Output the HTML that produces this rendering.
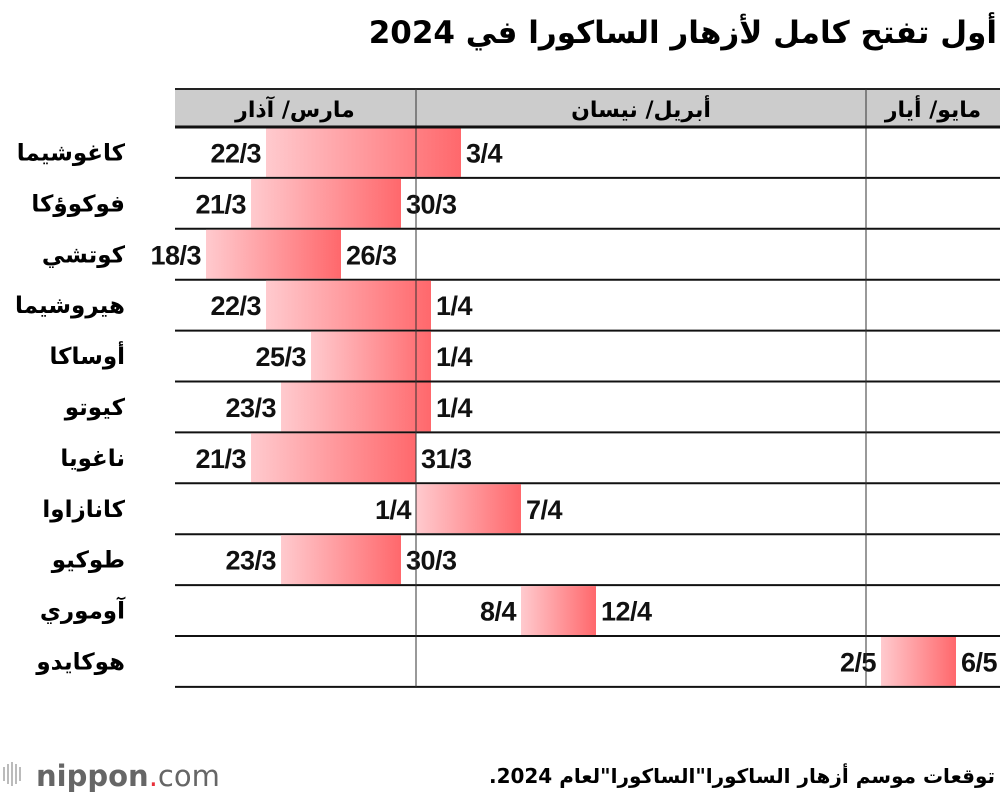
<!DOCTYPE html>
<html><head><meta charset="utf-8">
<style>
body{margin:0;background:#fff;width:1000px;height:798px;overflow:hidden;}
svg{display:block;font-family:"Liberation Sans Narrow","Liberation Sans","Noto Sans CJK SC",sans-serif;}
.ar{font-family:"DejaVu Sans","Liberation Sans",sans-serif;font-weight:bold;}
</style></head><body>
<svg id="chart" width="1000" height="798" viewBox="0 0 1000 798">
<defs><linearGradient id="g" x1="0" x2="1" y1="0" y2="0"><stop offset="0" stop-color="#ffcace"/><stop offset="1" stop-color="#ff686c"/></linearGradient></defs>
<text class="ar" x="997" y="43" text-anchor="start" font-size="31" direction="rtl">أول تفتح كامل لأزهار الساكورا في 2024</text>
<rect x="175" y="89" width="825" height="38" fill="#cccccc"/>
<line x1="175" y1="89" x2="1000" y2="89" stroke="#222" stroke-width="2"/>
<text class="ar" x="295" y="117" text-anchor="middle" font-size="22">مارس/ آذار</text>
<text class="ar" x="641" y="117" text-anchor="middle" font-size="22">أبريل/ نيسان</text>
<text class="ar" x="933" y="117" text-anchor="middle" font-size="22">مايو/ أيار</text>
<g id="rows"></g>
<text class="ar" x="995" y="783" text-anchor="start" font-size="20" direction="rtl">توقعات موسم أزهار الساكورا"الساكورا"لعام 2024.</text>
<g>
<g fill="#bbb"><rect x="3" y="767" width="2" height="14"/><rect x="7" y="764" width="2" height="20"/><rect x="11" y="762" width="2" height="24"/><rect x="15" y="764" width="2" height="20"/><rect x="19" y="767" width="2" height="14"/></g>
<text x="36" y="786" font-family="'DejaVu Sans',sans-serif" font-size="29" fill="#666"><tspan font-weight="bold">nippon</tspan><tspan fill="#e8303a">.</tspan><tspan>com</tspan></text>
</g>
</svg>
<script>
const cities=["كاغوشيما","فوكوؤكا","كوتشي","هيروشيما","أوساكا","كيوتو","ناغويا","كانازاوا","طوكيو","آوموري","هوكايدو"];
const startDates=["22/3","21/3","18/3","22/3","25/3","23/3","21/3","1/4","23/3","8/4","2/5"];
const endDates=["3/4","30/3","26/3","1/4","1/4","1/4","31/3","7/4","30/3","12/4","6/5"];
const ns="http://www.w3.org/2000/svg";
const g=document.getElementById('rows');
const x0=416,pxDay=15,top0=127,rowH=50.9;
function dayIndex(s){const[d,m]=s.split('/').map(Number);const off={3:-31,4:0,5:30}[m];return off+d-1;}
function xStart(s){return x0+dayIndex(s)*pxDay;}
function xEnd(s){return x0+(dayIndex(s)+1)*pxDay;}
function mk(t,a){const e=document.createElementNS(ns,t);for(const k in a)e.setAttribute(k,a[k]);g.appendChild(e);return e;}
cities.forEach((c,i)=>{
  const y=top0+i*rowH;
  const a=xStart(startDates[i]),b=xEnd(endDates[i]);
  const r=mk('rect',{x:a,y:y+1,width:b-a,height:rowH-2,fill:'url(#g)'});
  
  
  const l=mk('line',{x1:175,x2:1000,y1:y+rowH,y2:y+rowH,stroke:'#111','stroke-width':2});
  
  
  const n=mk('text',{x:125,y:y+rowH/2+8,'text-anchor':'end','font-size':23,'class':'ar'});
  n.textContent=c;
  
  
  const s=mk('text',{x:a-5,y:y+rowH/2+10,'text-anchor':'end','font-size':27,'font-weight':'bold','letter-spacing':-0.5,fill:'#111'});
  s.textContent=startDates[i];
  
  
  const e=mk('text',{x:b+5,y:y+rowH/2+10,'text-anchor':'start','font-size':27,'font-weight':'bold','letter-spacing':-0.5,fill:'#111'});
  e.textContent=endDates[i];
  
  
});
[416,866].forEach(x=>{
  const v=mk('line',{x1:x,x2:x,y1:89,y2:top0+11*rowH,stroke:'#333','stroke-width':1});
  
  
});
const hb=mk('line',{x1:175,x2:1000,y1:127,y2:127,stroke:'#111','stroke-width':3});


</script>
</body></html>
